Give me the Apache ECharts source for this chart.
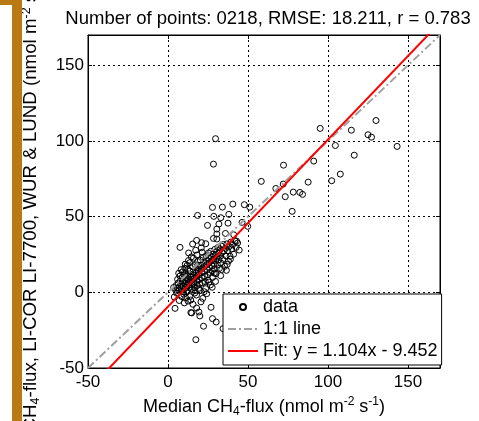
<!DOCTYPE html>
<html>
<head>
<meta charset="utf-8">
<script src="https://cdn.jsdelivr.net/npm/echarts@6/dist/echarts.min.js"></script>
<style>
html,body{margin:0;padding:0;background:#fff;}
#chart{width:479px;height:421px;}
</style>
</head>
<body>
<div id="chart"></div>
<script>
const titleText = 'Number of points: 0218, RMSE: 18.211, r = 0.783';
const xTicks = [-50, 0, 50, 100, 150];
const yTicks = [-50, 0, 50, 100, 150];
const axisMin = -50, axisMax = 170;
const fitSlope = 1.104, fitIntercept = -9.452;
const legendNames = ['data', '1:1 line', 'Fit: y = 1.104x - 9.452'];

// scattered outliers (upper right)
const outlierPoints = [
  [29.7,101.5],[28.4,84.7],[95.1,108.3],[130,113.5],[114.6,107.1],[125,104.1],[127.2,102.5],
  [104.6,97],[143.2,96.4],[116.4,90.6],[91.1,86.7],[72.2,84],[107.7,78.1],[58.3,73.3],
  [102.3,73.7],[87.6,72.8],[67.4,68.6],[72,71.5],[78.3,66.2],[82.4,66],[84.1,64.7],[73.3,63.2],
  [77.6,53.5],[27.8,56.1],[34,56.3],[40.5,58.3],[47.7,57.9],[51.1,56.3],[18.5,50.8],[28.6,50.2],
  [33,49.3],[38,51.5],[24.7,44.2],[31.8,45.1],[37.5,45.7],[46.3,46.2],[49.8,43.6],[30.5,41.8],
  [30.5,38.5],[30.5,35.2],[35.9,38.9],[41.1,38],[17.9,34.3],[15.4,31.9],[21,32.8],[23.6,32.1],
  [28.4,35.6],[42.8,33.9],[7.5,29.7],[12.9,26]
];
// points below zero
const lowPoints = [
  [4.4,-10.6],[17.9,-10.4],[14.3,-13.4],[19.3,-13],[26.9,-9.9],[22.2,-22.4],[17.4,-31.3],
  [27.8,-17.4],[30.1,-19.6],[34.4,-24],[19.9,-15.6],[14.8,-13.6]
];
// dense cluster
const clusterPoints = [
  [3.5,3.2],[4.8,1.5],[5.2,4.6],[5.9,2.8],[6.4,6.1],[6.8,0.9],[7.3,3.9],[7.7,7.4],[8.1,5.2],[8.4,2.1],
  [8.9,9.8],[9.2,6.7],[9.5,4.0],[9.8,-1.2],[10.1,11.3],[10.3,8.2],[10.6,5.7],[10.9,2.9],[11.2,13.0],[11.4,9.6],
  [11.7,7.1],[11.9,4.4],[12.2,1.0],[12.4,15.2],[12.6,11.8],[12.9,8.9],[13.1,6.3],[13.3,3.2],[13.6,-2.8],[13.8,14.1],
  [14.0,12.0],[14.3,10.1],[14.5,7.6],[14.8,5.0],[15.0,1.9],[15.2,17.0],[15.5,13.4],[15.7,11.2],[16.0,8.8],[16.2,6.1],
  [16.5,3.4],[16.7,-0.5],[17.0,18.2],[17.2,15.1],[17.5,12.7],[17.7,10.0],[18.0,7.3],[18.2,4.6],[18.5,20.4],[18.7,16.6],
  [19.0,14.0],[19.2,11.5],[19.5,8.4],[19.7,5.5],[20.0,1.2],[20.2,21.3],[20.5,18.0],[20.7,15.3],[21.0,12.9],[21.2,9.7],
  [21.5,6.2],[21.7,-4.0],[22.0,23.0],[22.3,19.6],[22.5,16.9],[22.8,13.8],[23.0,10.6],[23.3,7.0],[23.5,2.4],[23.8,24.2],
  [24.0,21.1],[24.3,18.3],[24.5,15.0],[24.8,11.7],[25.0,8.1],[25.3,26.0],[25.5,22.4],[25.8,19.5],[26.0,16.4],[26.3,13.1],
  [26.5,4.9],[26.8,27.1],[27.0,23.8],[27.3,20.9],[27.5,17.6],[27.8,14.2],[28.0,9.9],[28.3,25.3],[28.5,22.0],[28.8,18.8],
  [29.0,15.6],[29.3,28.4],[29.5,24.4],[29.8,20.7],[30.0,12.3],[30.3,26.8],[30.6,23.2],[30.9,18.1],[31.2,29.6],[31.5,25.7],
  [31.8,21.5],[32.1,15.8],[32.4,28.0],[32.7,23.9],[33.0,19.4],[33.4,30.5],[33.8,26.3],[34.2,21.8],[34.6,31.6],[35.0,27.4],
  [35.4,17.2],[35.8,29.1],[36.3,24.0],[36.8,32.0],[37.3,27.5],[37.8,20.6],[38.3,30.3],[38.8,23.8],[39.3,33.2],[39.8,28.6],
  [40.4,31.4],[41.0,25.2],[41.8,34.1],[42.6,29.7],[43.5,32.6],[44.5,27.9],[6.0,8.5],[7.5,10.8],[9.0,13.5],[10.5,15.9],
  [12.0,17.8],[13.5,19.5],[9.6,0.4],[11.0,-3.5],[14.2,-5.1],[17.8,-1.8],[19.1,2.6],[24.2,-0.9],[27.6,3.3],[29.7,7.2],
  [32.9,11.0],[36.5,14.5],[15.9,22.6],[18.1,24.7],[21.4,26.5],[12.8,21.0],[5.5,-0.6],[8.7,-2.9],[11.6,0.2],[16.9,1.1],
  [22.6,0.4],[25.6,6.8],[28.9,12.7],[33.6,15.1],[37.0,18.4],[39.0,21.9],[6.7,12.6],[8.2,15.0],[10.8,18.6],[14.6,23.4],
  [17.3,27.8],[20.8,29.4],[3.9,-3.1],[7.0,-5.4],[10.2,-7.0],[12.5,-5.8],[15.6,-7.9],[20.6,-6.3]
];
const dataPoints = outlierPoints.concat(lowPoints, clusterPoints);

const FONT = 'Liberation Sans, Arial, sans-serif';
const chart = echarts.init(document.getElementById('chart'), null, {renderer: 'canvas'});

const nameRich = {
  n: {fontSize: 18, fontFamily: FONT, color: '#000', lineHeight: 22},
  s: {fontSize: 12, fontFamily: FONT, color: '#000', lineHeight: 10, verticalAlign: 'bottom'},
  p: {fontSize: 12, fontFamily: FONT, color: '#000', lineHeight: 10, verticalAlign: 'top'}
};
const yNameRich = {
  n: {fontSize: 18.7, fontFamily: FONT, color: '#000', lineHeight: 22},
  s: {fontSize: 12.5, fontFamily: FONT, color: '#000', lineHeight: 10, verticalAlign: 'bottom'},
  p: {fontSize: 12.5, fontFamily: FONT, color: '#000', lineHeight: 10, verticalAlign: 'top'}
};

const tickFmt = (ticks) => (v) => ticks.indexOf(v) >= 0 ? String(v) : '';

const option = {
  animation: false,
  backgroundColor: '#fff',
  title: {
    text: titleText, left: 263, top: 4, textAlign: 'center',
    textStyle: {fontSize: 18.5, fontWeight: 'normal', fontFamily: FONT, color: '#000'}
  },
  graphic: [
    {type: 'rect', shape: {x: 12, y: 0, width: 10, height: 421}, style: {fill: '#B97A14'}, z: 100},
    {type: 'rect', shape: {x: 0, y: 0, width: 22, height: 5}, style: {fill: '#B97A14'}, z: 100}
  ],
  grid: {left: 88, top: 35, width: 352, height: 333, show: true, borderColor: '#000', borderWidth: 1,
         backgroundColor: '#fff', containLabel: false, outerBoundsMode: 'none'},
  legend: {
    left: 223, top: 294, orient: 'vertical',
    backgroundColor: '#fff', borderColor: '#000', borderWidth: 1, borderRadius: 0,
    padding: [4, 4, 5, 4], itemGap: 4, itemWidth: 30, itemHeight: 6,
    textStyle: {fontSize: 18, fontFamily: FONT, color: '#000'},
    data: [
      {name: legendNames[0]},
      {name: legendNames[1], itemStyle: {opacity: 0}},
      {name: legendNames[2], itemStyle: {opacity: 0}}
    ]
  },
  xAxis: [{
    type: 'value', min: axisMin, max: axisMax, interval: 50,
    name: '{n|Median CH}{s|4}{n|-flux (nmol m}{p|-2}{n| s}{p|-1}{n|)}',
    nameLocation: 'middle', nameGap: 26,
    nameTextStyle: {rich: nameRich},
    axisLine: {show: true, onZero: false, lineStyle: {color: '#000', width: 1}},
    axisTick: {show: true, inside: true, length: 4, lineStyle: {color: '#000'}},
    axisLabel: {fontSize: 17, fontFamily: FONT, color: '#000', margin: 6, formatter: tickFmt(xTicks), showMaxLabel: false},
    splitLine: {show: true, lineStyle: {color: '#000', type: [2, 3], width: 1}}
  }, {
    type: 'value', min: axisMin, max: axisMax, interval: 50, position: 'top',
    axisLine: {show: true, onZero: false, lineStyle: {color: '#000'}},
    axisTick: {show: true, inside: true, length: 4, lineStyle: {color: '#000'}},
    axisLabel: {show: false}, splitLine: {show: false}
  }],
  yAxis: [{
    type: 'value', min: axisMin, max: axisMax, interval: 50,
    name: '{n|CH}{s|4}{n|-flux, LI-COR LI-7700, WUR & LUND (nmol m}{p|-2}{n| s}{p|-1}{n|)}',
    nameLocation: 'middle', nameGap: 46, nameRotate: 90,
    nameTextStyle: {rich: yNameRich, padding: [0, 4, 0, 0]},
    axisLine: {show: true, onZero: false, lineStyle: {color: '#000', width: 1}},
    axisTick: {show: true, inside: true, length: 4, lineStyle: {color: '#000'}},
    axisLabel: {fontSize: 17, fontFamily: FONT, color: '#000', margin: 4, formatter: tickFmt(yTicks), showMaxLabel: false},
    splitLine: {show: true, lineStyle: {color: '#000', type: [2, 3], width: 1}}
  }, {
    type: 'value', min: axisMin, max: axisMax, interval: 50, position: 'right',
    axisLine: {show: true, onZero: false, lineStyle: {color: '#000'}},
    axisTick: {show: true, inside: true, length: 4, lineStyle: {color: '#000'}},
    axisLabel: {show: false}, splitLine: {show: false}
  }],
  series: [{
    name: legendNames[0], type: 'scatter', data: dataPoints,
    symbol: 'circle', symbolSize: 6,
    itemStyle: {color: 'rgba(0,0,0,0)', borderColor: '#000', borderWidth: 1, opacity: 1},
    z: 2
  }, {
    name: legendNames[1], type: 'line', data: [[axisMin, axisMin], [axisMax, axisMax]],
    symbol: 'none', showSymbol: false,
    itemStyle: {color: '#A0A0A0'},
    lineStyle: {color: '#A0A0A0', width: 2, type: [8, 3, 2, 3]}, z: 3
  }, {
    name: legendNames[2], type: 'line',
    data: [[axisMin, fitSlope * axisMin + fitIntercept], [axisMax, fitSlope * axisMax + fitIntercept]],
    symbol: 'none', showSymbol: false, clip: true,
    itemStyle: {color: '#FF0000'},
    lineStyle: {color: '#FF0000', width: 2}, z: 4
  }]
};
chart.setOption(option);
</script>
</body>
</html>
